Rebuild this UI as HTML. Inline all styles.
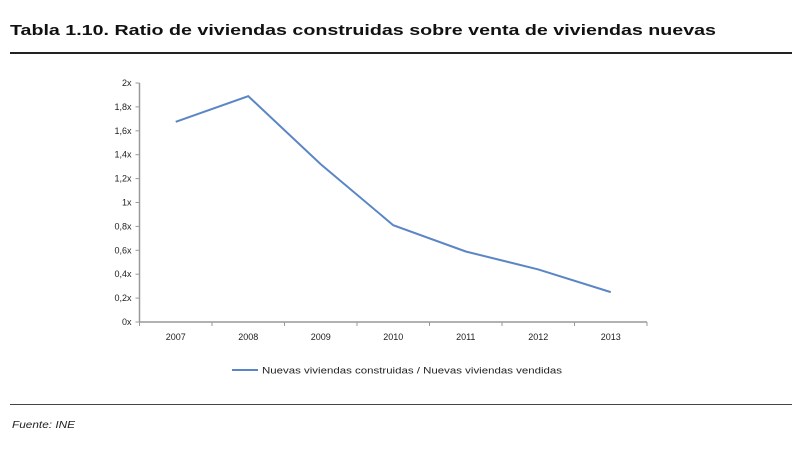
<!DOCTYPE html>
<html><head><meta charset="utf-8"><style>
body{margin:0;background:#fff;width:804px;height:445px;overflow:hidden;font-family:"Liberation Sans",sans-serif}
</style></head><body>
<svg width="804" height="445">
<text x="10" y="35" font-size="15" font-weight="bold" fill="#111" textLength="706" lengthAdjust="spacingAndGlyphs">Tabla 1.10.  Ratio de viviendas construidas sobre venta de viviendas nuevas</text>
<rect x="10" y="52" width="782" height="2" fill="#222"/>
<g id="plot"></g>
<line x1="232" y1="370" x2="258" y2="370" stroke="#5b86c5" stroke-width="2"/>
<text x="262" y="373.5" font-size="9" fill="#222" textLength="300" lengthAdjust="spacingAndGlyphs">Nuevas viviendas construidas / Nuevas viviendas vendidas</text>
<rect x="10" y="404" width="782" height="1" fill="#444"/>
<text x="12" y="428" font-size="10" font-style="italic" fill="#222" textLength="63" lengthAdjust="spacingAndGlyphs">Fuente:  INE</text>
</svg>
<script>
const categories=["2007","2008","2009","2010","2011","2012","2013"];
const ratioValues=[1.675,1.89,1.32,0.81,0.59,0.44,0.25];
const yTicks=[0,0.2,0.4,0.6,0.8,1,1.2,1.4,1.6,1.8,2];
const yTickLabels=["0x","0,2x","0,4x","0,6x","0,8x","1x","1,2x","1,4x","1,6x","1,8x","2x"];
const NS="http://www.w3.org/2000/svg";
const g=document.getElementById('plot');
const x0=139.5,band=72.5,yBase=322,yTop=83;
const X=i=>x0+band*(i+0.5);
const Y=v=>yBase-(v/2)*(yBase-yTop);
function mk(t,a){const e=document.createElementNS(NS,t);for(const k in a)e.setAttribute(k,a[k]);g.appendChild(e);return e;}
let e=mk('line',{x1:x0,y1:yTop,x2:x0,y2:yBase,stroke:'#999','stroke-width':1.5});


e=mk('line',{x1:x0,y1:yBase,x2:x0+band*categories.length,y2:yBase,stroke:'#999','stroke-width':1.5});


yTicks.forEach((v,i)=>{
 mk('line',{x1:x0-4,y1:Y(v),x2:x0,y2:Y(v),stroke:'#999'});
 const t=mk('text',{x:x0-8,y:Y(v)+3,'font-size':9,'text-anchor':'end',fill:'#222'});
 t.textContent=yTickLabels[i];
 
 
});
for(let i=0;i<=categories.length;i++)mk('line',{x1:x0+band*i,y1:yBase,x2:x0+band*i,y2:yBase+4,stroke:'#999'});
categories.forEach((c,i)=>{
 const t=mk('text',{x:X(i),y:yBase+18,'font-size':9,'text-anchor':'middle',fill:'#222'});
 t.textContent=c;
 
 
});
const p=mk('polyline',{points:ratioValues.map((v,i)=>X(i)+','+Y(v)).join(' '),fill:'none',stroke:'#5b86c5','stroke-width':2});


</script>
</body></html>
